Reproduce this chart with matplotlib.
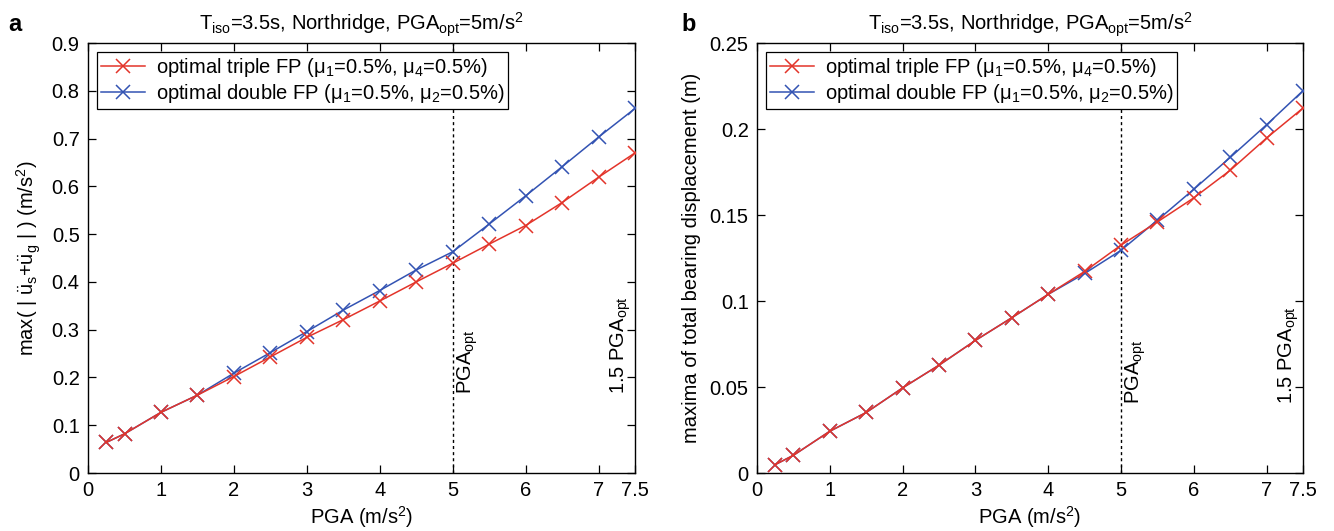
import matplotlib
matplotlib.use("Agg")
import matplotlib.pyplot as plt
from matplotlib.ticker import FixedLocator

plt.rcParams['font.family'] = ['Liberation Sans', 'DejaVu Sans']
plt.rcParams['mathtext.fontset'] = 'custom'
plt.rcParams['mathtext.rm'] = 'Liberation Sans'
plt.rcParams['mathtext.it'] = 'Liberation Sans:italic'
plt.rcParams['mathtext.bf'] = 'Liberation Sans:bold'

# PGA levels (m/s^2)
pga = [0.25, 0.5, 1, 1.5, 2, 2.5, 3, 3.5, 4, 4.5, 5, 5.5, 6, 6.5, 7, 7.5]

# Peak absolute acceleration (m/s^2)
acc_triple = [0.064, 0.082, 0.127, 0.163, 0.202, 0.243, 0.284, 0.321, 0.360, 0.400,
              0.439, 0.479, 0.518, 0.566, 0.619, 0.670]
acc_double = [0.064, 0.082, 0.127, 0.163, 0.209, 0.252, 0.296, 0.341, 0.382, 0.425,
              0.463, 0.521, 0.580, 0.641, 0.703, 0.763]

# Peak total bearing displacement (m)
disp_triple = [0.0049, 0.0103, 0.0243, 0.0352, 0.0495, 0.0627, 0.0771, 0.0903, 0.1039, 0.1172,
               0.1325, 0.1460, 0.1600, 0.1760, 0.1948, 0.2122]
disp_double = [0.0049, 0.0103, 0.0243, 0.0352, 0.0495, 0.0627, 0.0771, 0.0903, 0.1039, 0.1160,
               0.1295, 0.1470, 0.1650, 0.1835, 0.2025, 0.2223]

xticks = [0, 1, 2, 3, 4, 5, 6, 7, 7.5]
xticklabels = ['0', '1', '2', '3', '4', '5', '6', '7', '7.5']
yticks_acc = [0, 0.1, 0.2, 0.3, 0.4, 0.5, 0.6, 0.7, 0.8, 0.9]
yticks_disp = [0, 0.05, 0.1, 0.15, 0.2, 0.25]

RED = '#e3342a'
BLUE = '#3353b3'
FS = 14.5

title = r'T$_\mathrm{iso}$=3.5s, Northridge, PGA$_\mathrm{opt}$=5m/s$^2$'
lab_triple = r'optimal triple FP (μ$_1$=0.5%, μ$_4$=0.5%)'
lab_double = r'optimal double FP (μ$_1$=0.5%, μ$_2$=0.5%)'

fig = plt.figure(figsize=(13.34, 5.31), dpi=100)
ax1 = fig.add_axes([0.066, 0.1092, 0.410, 0.8098])
ax2 = fig.add_axes([0.5675, 0.1092, 0.4093, 0.8098])


def draw(ax, ytri, ydbl, yticks, ylim, ylabel, txt_y, letter_x):
    ax.axvline(5, color='black', linestyle=(0, (2.2, 2.2)), linewidth=1.0, zorder=1)
    hd, = ax.plot(pga, ydbl, color=BLUE, marker='x', markersize=10, markeredgewidth=1.1,
                  linewidth=1.1, zorder=3)
    ht, = ax.plot(pga, ytri, color=RED, marker='x', markersize=10, markeredgewidth=1.1,
                  linewidth=1.1, zorder=4)
    ax.set_xlim(0, 7.5)
    ax.set_ylim(*ylim)
    ax.xaxis.set_major_locator(FixedLocator(xticks))
    ax.set_xticklabels(xticklabels)
    ax.yaxis.set_major_locator(FixedLocator(yticks))
    ax.set_yticklabels([('%g' % v) for v in yticks])
    ax.tick_params(direction='in', length=6, width=0.9, top=True, right=True,
                   labelsize=FS, pad=6)
    for s in ax.spines.values():
        s.set_linewidth(1.0)
    ax.set_xlabel(r'PGA (m/s$^2$)', fontsize=FS, labelpad=3)
    ax.set_ylabel(ylabel, fontsize=FS, labelpad=6)
    ax.set_title(title, fontsize=FS, pad=9)
    ax.text(5.2, txt_y, r'PGA$_\mathrm{opt}$', rotation=90, fontsize=FS,
            ha='center', va='bottom')
    ax.text(7.3, txt_y, r'1.5 PGA$_\mathrm{opt}$', rotation=90, fontsize=FS,
            ha='center', va='bottom')
    leg = ax.legend([ht, hd], [lab_triple, lab_double], loc='upper left', fontsize=FS,
                    frameon=True, fancybox=False, edgecolor='black', framealpha=1,
                    borderpad=0.2, labelspacing=0.15, handlelength=2.2,
                    handletextpad=0.5, borderaxespad=0.45)
    leg.get_frame().set_linewidth(0.9)
    leg.set_zorder(10)
    fig.text(letter_x, 0.975, 'a' if ax is ax1 else 'b', fontsize=17,
             fontweight='bold', ha='left', va='top')


draw(ax1, acc_triple, acc_double, yticks_acc, (0, 0.9),
     r'max( | $\ddot{\mathrm{u}}_\mathrm{s}$+$\ddot{\mathrm{u}}_\mathrm{g}$ | ) (m/s$^2$)',
     0.165, 0.006)
draw(ax2, disp_triple, disp_double, yticks_disp, (0, 0.25),
     'maxima of total bearing displacement (m)', 0.04, 0.511)

fig.savefig('out.png', dpi=100)
